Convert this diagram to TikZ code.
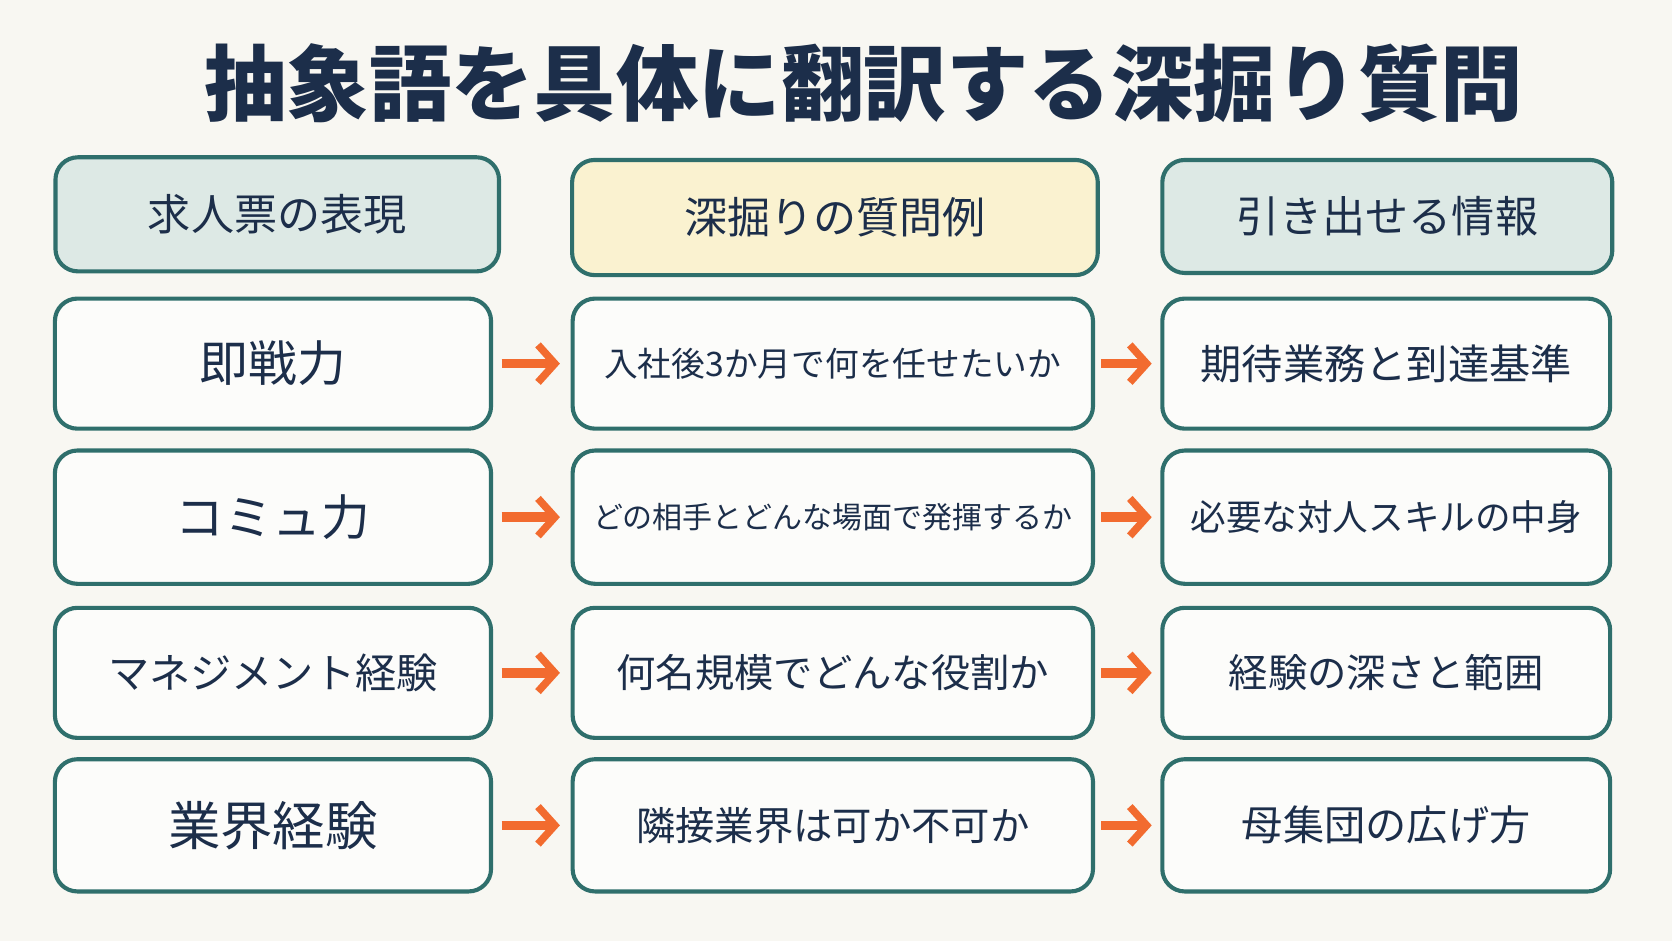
\documentclass[tikz,border=0pt]{standalone}
\usepackage{fontspec}
\newfontfamily\cjk{Noto Sans CJK JP}
\usetikzlibrary{arrows.meta,positioning}
\definecolor{bgcol}{HTML}{F8F7F2}
\definecolor{navy}{HTML}{1C2E4A}
\definecolor{tealline}{HTML}{2F6F6C}
\definecolor{headteal}{HTML}{DDE9E5}
\definecolor{headyel}{HTML}{FAF2D0}
\definecolor{arrorange}{HTML}{F26B2F}
\tikzset{
  cell/.style={draw=tealline, line width=2.2pt, rounded corners=12pt, fill=white!60!bgcol,
    text=navy, font=\cjk\fontsize{22}{26}\selectfont, inner sep=0pt},
  head/.style={cell, font=\cjk\fontsize{23}{27}\selectfont},
  flowarrow/.style={-{Straight Barb[length=9pt,width=20pt,line width=4pt]}, line width=5pt, draw=arrorange}
}
\begin{document}
\begin{tikzpicture}[x=0.02cm,y=-0.02cm]
\fill[bgcol] (0,0) rectangle (1568,882);
\useasboundingbox (0,0) rectangle (1568,882);
\node[text=navy, font=\cjk\bfseries\fontsize{44}{50}\selectfont] (title) at (810,78) {抽象語を具体に翻訳する深掘り質問};
% header row
\node[head, fill=headteal, minimum width=416*0.02cm, minimum height=107*0.02cm] (h1) at (260,201) {求人票の表現};
\node[head, fill=headyel, minimum width=493*0.02cm, minimum height=108*0.02cm] (h2) at (783,204) {深掘りの質問例};
\node[head, fill=headteal, minimum width=422*0.02cm, minimum height=106*0.02cm] (h3) at (1301,203) {引き出せる情報};
% rows
\foreach \n/\y/\h/\a/\as/\b/\bs/\c/\cs in {
  1/341/122/即戦力/26/入社後3か月で何を任せたいか/18/期待業務と到達基準/22,
  2/485/125/コミュ力/26/どの相手とどんな場面で発揮するか/16/必要な対人スキルの中身/19,
  3/631/122/マネジメント経験/22/何名規模でどんな役割か/21/経験の深さと範囲/21,
  4/774/124/業界経験/28/隣接業界は可か不可か/21/母集団の広げ方/22}{
  \node[cell, minimum width=409*0.02cm, minimum height=\h*0.02cm, font=\cjk\fontsize{\as}{30}\selectfont] (a\n) at (256,\y) {\a};
  \node[cell, minimum width=488*0.02cm, minimum height=\h*0.02cm, font=\cjk\fontsize{\bs}{24}\selectfont] (b\n) at (781,\y) {\b};
  \node[cell, minimum width=420*0.02cm, minimum height=\h*0.02cm, font=\cjk\fontsize{\cs}{26}\selectfont] (c\n) at (1300,\y) {\c};
  \draw[flowarrow] ([xshift=8*0.02cm]a\n.east) -- ([xshift=-10*0.02cm]b\n.west);
  \draw[flowarrow] ([xshift=6*0.02cm]b\n.east) -- ([xshift=-8*0.02cm]c\n.west);
}
\end{tikzpicture}
\end{document}
